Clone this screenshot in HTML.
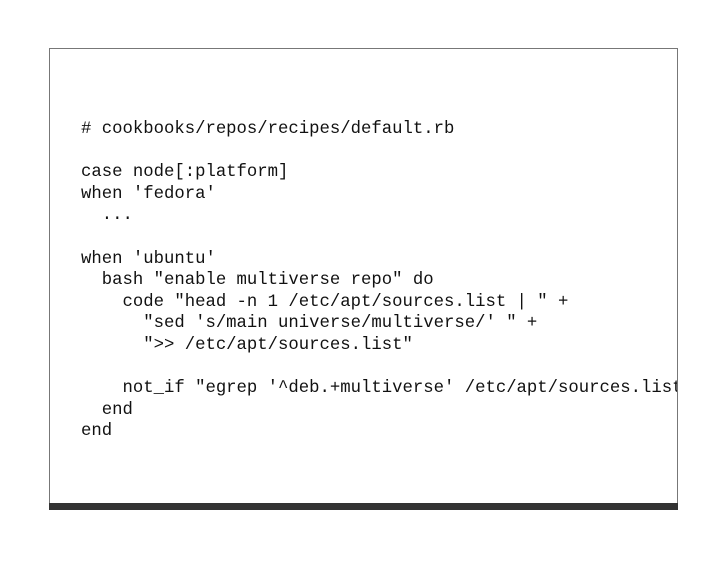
<!DOCTYPE html>
<html><head><meta charset="utf-8"><style>
html,body{margin:0;padding:0;background:#fff;width:728px;height:563px;overflow:hidden}
.box{position:absolute;left:49px;top:48px;width:627px;height:455px;border:1px solid #777;border-bottom:none;background:#fff;overflow:hidden}
.bar{position:absolute;left:49px;top:503px;width:629px;height:7px;background:#333}
pre{position:absolute;left:31px;top:70px;margin:0;font-family:"Liberation Mono","DejaVu Sans Mono",monospace;font-size:17.3px;line-height:21.6px;color:#111;white-space:pre}
</style></head><body>
<div class="box"><pre># cookbooks/repos/recipes/default.rb

case node[:platform]
when 'fedora'
  ...

when 'ubuntu'
  bash "enable multiverse repo" do
    code "head -n 1 /etc/apt/sources.list | " +
      "sed 's/main universe/multiverse/' " +
      "&gt;&gt; /etc/apt/sources.list"

    not_if "egrep '^deb.+multiverse' /etc/apt/sources.list"
  end
end</pre></div>
<div class="bar"></div>
</body></html>
